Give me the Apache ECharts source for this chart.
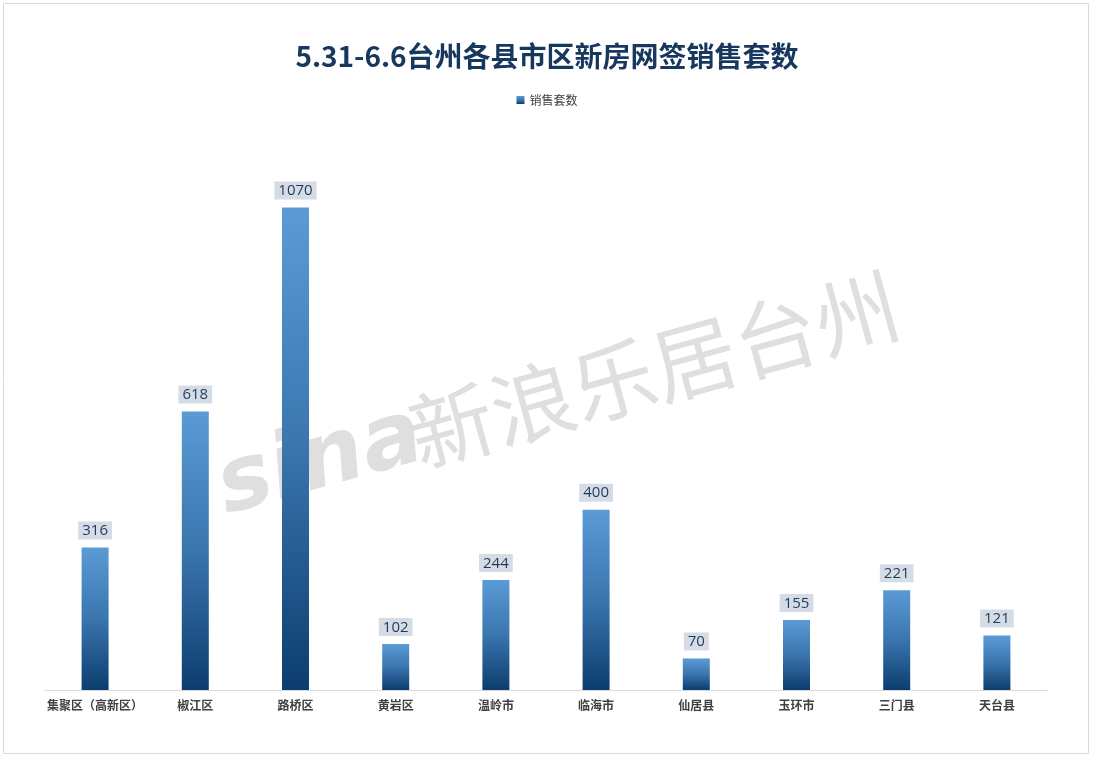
<!DOCTYPE html>
<html><head><meta charset="utf-8">
<script src="https://cdn.jsdelivr.net/npm/echarts@6/dist/echarts.min.js"></script>
<style>html,body{margin:0;padding:0;background:#fff}#c{width:1094px;height:758px}</style>
</head><body><div id="c"></div>
<script>
const categories = ['集聚区（高新区）','椒江区','路桥区','黄岩区','温岭市','临海市','仙居县','玉环市','三门县','天台县'];
const salesUnits = [316, 618, 1070, 102, 244, 400, 70, 155, 221, 121];
const seriesName = '销售套数';
const titleText = '5.31-6.6台州各县市区新房网签销售套数';

const chart = echarts.init(document.getElementById('c'));
const font = '"Microsoft YaHei","Noto Sans CJK SC",sans-serif';
chart.setOption({
  backgroundColor: '#ffffff',
  animation: false,
  title: {
    text: titleText, left: 'center', top: 37,
    textStyle: { fontSize: 28, fontWeight: 'bold', color: '#17375E', fontFamily: font }
  },
  legend: {
    data: [seriesName], top: 89, left: 'center', itemWidth: 8, itemHeight: 8, itemGap: 4,
    icon: 'rect',
    textStyle: { fontSize: 12, color: '#404040', fontFamily: font }
  },
  graphic: [
    { type: 'rect', shape: { x: 3.5, y: 3.5, width: 1085, height: 750 }, style: { fill: 'none', stroke: '#d9d9d9', lineWidth: 1 }, z: -10 },
    { type: 'text', left: 208, top: 392, rotation: 0.27, style: { text: 'sina', font: 'italic bold 90px "DejaVu Sans",sans-serif', fill: 'rgba(185,185,185,0.45)' }, z: -5 },
    { type: 'text', left: 400, top: 262, rotation: 0.27, style: { text: '新浪乐居台州', font: '84px "Noto Sans CJK SC",sans-serif', fill: 'rgba(185,185,185,0.45)' }, z: -5 }
  ],
  grid: { left: 45, right: 47, top: 149, bottom: 68, containLabel: false },
  xAxis: {
    type: 'category', data: categories,
    axisLine: { lineStyle: { color: '#d9d9d9', width: 1 } },
    axisTick: { show: false },
    axisLabel: { interval: 0, fontSize: 12, fontWeight: 'bold', color: '#404040', margin: 9, fontFamily: font }
  },
  yAxis: {
    type: 'value', min: 0, max: 1200, interval: 200, show: false,
    splitLine: { show: false }
  },
  series: [{
    name: seriesName, type: 'bar', data: salesUnits, barWidth: 27,
    itemStyle: {
      color: new echarts.graphic.LinearGradient(0, 0, 0, 1, [
        { offset: 0, color: '#5B9BD5' }, { offset: 0.5, color: '#3A75AE' }, { offset: 1, color: '#0C3D6E' }
      ])
    },
    label: {
      show: true, position: 'top', distance: 8,
      fontSize: 15, color: '#1F3B5C', fontFamily: '"Open Sans","Noto Sans",sans-serif',
      backgroundColor: '#D6DCE5', padding: [2, 4, 1, 4]
    }
  }]
});
</script></body></html>
